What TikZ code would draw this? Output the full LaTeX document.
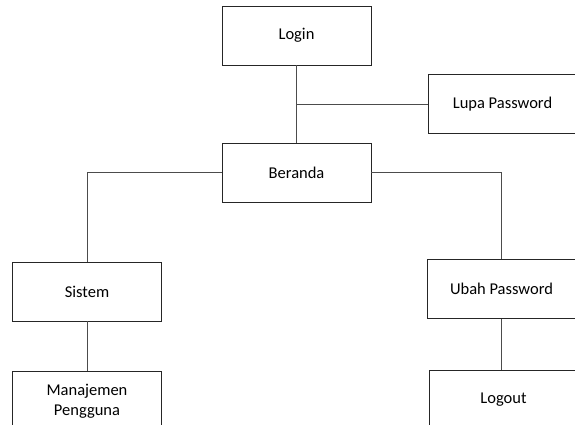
\documentclass[tikz,border=0pt]{standalone}
\usepackage{fontspec}
\setmainfont{Carlito}
\begin{document}
\begin{tikzpicture}[x=1pt,y=-1pt,
  menubox/.style={draw=black!85,line width=0.9pt,rectangle,minimum width=149pt,
    minimum height=59pt,align=center,inner sep=0pt,
    font=\fontsize{16.5}{20.5}\selectfont},
  link/.style={draw=black!70,line width=0.9pt}]
  \useasboundingbox (0,0) rectangle (575,425);
  \clip (0,0) rectangle (575,425);
  % menu items
  \node[menubox] (login)   at (296.5,35.5)  {Login};
  \node[menubox] (lupa)    at (502.5,104)   {Lupa Password};
  \node[menubox] (beranda) at (296.5,172.5) {Beranda};
  \node[menubox] (sistem)  at (87,291.5)    {Sistem};
  \node[menubox] (manaj)   at (87,401)      {Manajemen\\Pengguna};
  \node[menubox] (ubah)    at (501.5,289)   {Ubah Password};
  \node[menubox] (logout)  at (503.5,400)   {Logout};
  % connectors
  \coordinate (j) at (login.south |- lupa.west);
  \draw[link] (login.south) -- (beranda.north);
  \draw[link] (j) -- (lupa.west);
  \draw[link] (beranda.west) -| (sistem.north);
  \draw[link] (beranda.east) -| (ubah.north);
  \draw[link] (sistem.south) -- (manaj.north);
  \draw[link] (ubah.south) -- (ubah.south |- logout.north);
\end{tikzpicture}
\end{document}
